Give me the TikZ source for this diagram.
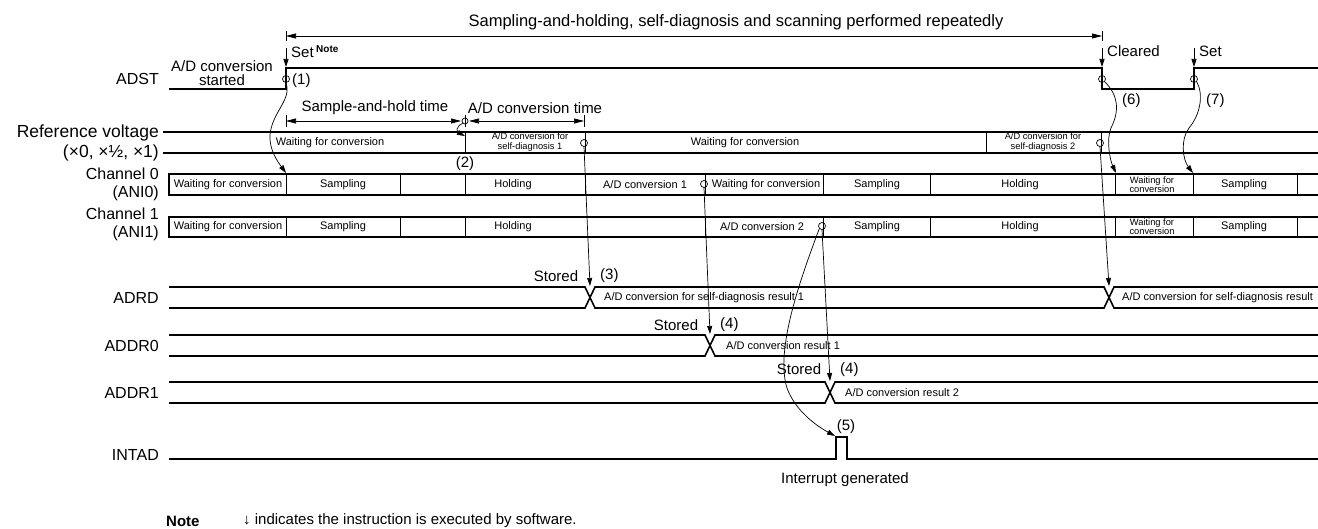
\documentclass[tikz,border=0pt]{standalone}
\usepackage{fontspec}
\setmainfont{Liberation Sans}
\usetikzlibrary{arrows.meta, positioning}

\tikzset{
  sig/.style={line width=1.6pt},
  sepline/.style={line width=0.7pt},
  ring/.style={circle, draw, line width=0.7pt, inner sep=0pt, minimum size=7pt},
  lab/.style={font=\fontsize{16}{18}\selectfont, anchor=east, inner sep=0pt},
  ann/.style={font=\fontsize{15}{14}\selectfont, inner sep=0pt},
  boxtxt/.style={font=\fontsize{11}{12}\selectfont, inner sep=0pt},
  tinytxt/.style={font=\fontsize{9.3}{9.3}\selectfont, align=center, inner sep=0pt},
  cue/.style={-{Triangle[length=8pt,width=5pt]}, line width=0.7pt},
  dimarr/.style={{Triangle[length=10pt,width=5pt]}-{Triangle[length=10pt,width=5pt]}, line width=0.7pt},
}

\begin{document}
\begin{tikzpicture}[x=1pt, y=-1pt]
\useasboundingbox (0,0) rectangle (1318,529);

% signal names
\node[lab] (nADST) at (159,79) {ADST};
\node[lab, font=\fontsize{17.5}{18}\selectfont] (nRefA) at (159,133) {Reference voltage};
\node[lab, font=\fontsize{17.5}{18}\selectfont] (nRefB) at (159,153) {(×0, ×½, ×1)};
\node[lab, align=right] (nCh0) at (159,184) {Channel 0\\(ANI0)};
\node[lab, align=right] (nCh1) at (159,224) {Channel 1\\(ANI1)};
\node[lab] (nADRD) at (159,298) {ADRD};
\node[lab] (nADDR0) at (159,346) {ADDR0};
\node[lab] (nADDR1) at (159,393) {ADDR1};
\node[lab] (nINTAD) at (159,455) {INTAD};

% repeat span
\node[ann, font=\fontsize{16.5}{18}\selectfont] (nRepeat) at (736,22)
  {Sampling-and-holding, self-diagnosis and scanning performed repeatedly};
\coordinate (dL) at (286,36);
\coordinate (dR) at (1102,36);
\draw[dimarr] (dL) -- (dR);
\draw[sepline] (286,31) -- (286,41) (1102,31) -- (1102,41);

% ADST
\draw[sig] (169,89) -- (286,89) -- (286,68) -- (1102,68) -- (1102,89)
  -- (1194,89) -- (1194,68) -- (1318,68);
\node[ann, align=center] (nStart) at (222,73) {A/D conversion\\started};
\foreach \x/\n in {286/s1, 1102/s6, 1194/s7} {
  \coordinate (\n) at (\x,48);
  \coordinate (\n t) at (\x,67);
  \draw[cue] (\n) -- (\n t);
}
\node[ann, anchor=west] (nSet) at (291,52)
  {Set\,\raisebox{5pt}{\fontsize{10}{10}\selectfont\bfseries Note}};
\node[ann, anchor=west] (nCleared) at (1107,51) {Cleared};
\node[ann, anchor=west] (nSet2) at (1199,51) {Set};
\node[ring] (c1) at (286,79) {};
\node[ring] (c6) at (1102,79) {};
\node[ring] (c7) at (1194,79) {};
\node[ann, anchor=west] (n1) at (292,81) {(1)};
\node[ann, anchor=west] (n6) at (1122,101) {(6)};
\node[ann, anchor=west] (n7) at (1206,101) {(7)};

% sample-and-hold / conversion time
\draw[sepline] (286,115) -- (286,127) (465,115) -- (465,127) (584,115) -- (584,127);
\draw[dimarr] (286,121) -- (461,121);
\draw[dimarr] (469,121) -- (584,121);
\node[ring, minimum size=6pt] (cS) at (465,121) {};
\node[ann] (nSH) at (375,108) {Sample-and-hold time};
\node[ann] (nCT) at (535,108) {A/D conversion time};

% reference voltage
\draw[sig] (163,132) -- (1318,132) (163,153) -- (1318,153);
\foreach \x in {465,585,986,1101}
  \draw[sepline] (\x,132) -- (\x,153);
\node[boxtxt] (rW1) at (330,143) {Waiting for conversion};
\node[tinytxt] (rD1) at (530,142) {A/D conversion for\\self-diagnosis 1};
\node[boxtxt] (rW2) at (745,143) {Waiting for conversion};
\node[tinytxt] (rD2) at (1043,142) {A/D conversion for\\self-diagnosis 2};
\node[ring] (cR1) at (584,143) {};
\node[ring] (cR2) at (1100,143) {};
\node[ann] (n2) at (465,164) {(2)};

% channel 0
\draw[sig] (1318,174) -- (169,174) -- (169,195) -- (1318,195);
\foreach \x in {286,400,465,585,705,823,930,1115,1193,1297}
  \draw[sepline] (\x,174) -- (\x,195);
\foreach \x/\t [count=\i] in {228/{Waiting for conversion}, 343/Sampling,
    513/Holding, 645/{A/D conversion 1}, 766/{Waiting for conversion},
    877/Sampling, 1020/Holding, 1244/Sampling}
  \node[boxtxt] (a\i) at (\x,185) {\t};
\node[tinytxt] (aW) at (1152,185) {Waiting for\\conversion};
\node[ring] (cC0) at (704,184) {};

% channel 1
\draw[sig] (1318,217) -- (169,217) -- (169,237) -- (1318,237);
\foreach \x in {286,400,465,705,823,930,1115,1193,1297}
  \draw[sepline] (\x,217) -- (\x,237);
\foreach \x/\t [count=\i] in {228/{Waiting for conversion}, 343/Sampling,
    513/Holding, 762/{A/D conversion 2}, 877/Sampling, 1020/Holding,
    1244/Sampling}
  \node[boxtxt] (b\i) at (\x,227) {\t};
\node[tinytxt] (bW) at (1152,227) {Waiting for\\conversion};
\node[ring] (cC1) at (822,226) {};

% result registers
\draw[sig] (169,287) -- (585,287) -- (595,308) -- (1104,308) -- (1114,287) -- (1318,287);
\draw[sig] (169,308) -- (585,308) -- (595,287) -- (1104,287) -- (1114,308) -- (1318,308);
\draw[sig] (169,335) -- (705,335) -- (715,356) -- (1318,356);
\draw[sig] (169,356) -- (705,356) -- (715,335) -- (1318,335);
\draw[sig] (169,382) -- (825,382) -- (835,403) -- (1318,403);
\draw[sig] (169,403) -- (825,403) -- (835,382) -- (1318,382);
\node[boxtxt, anchor=west] (rr1) at (604,298) {A/D conversion for self-diagnosis result 1};
\node[boxtxt, anchor=west] (rr2) at (1122,298) {A/D conversion for self-diagnosis result};
\node[boxtxt, anchor=west] (rr3) at (726,346) {A/D conversion result 1};
\node[boxtxt, anchor=west] (rr4) at (845,393) {A/D conversion result 2};
\node[ann] (st1) at (556,276) {Stored};
\node[ann] (st2) at (676,325) {Stored};
\node[ann] (st3) at (799,369) {Stored};
\node[ann, anchor=west] (n3) at (600,276) {(3)};
\node[ann, anchor=west] (n4a) at (720,325) {(4)};
\node[ann, anchor=west] (n4b) at (840,370) {(4)};

% INTAD
\draw[sig] (169,459) -- (836,459) -- (836,437) -- (847,437) -- (847,459) -- (1318,459);
\node[ann] (n5) at (846,427) {(5)};
\node[ann] (nInt) at (845,480) {Interrupt generated};

% cause/effect arrows
\coordinate (t1) at (286,173);
\coordinate (t2) at (465,136);
\coordinate (t3) at (590,286);
\coordinate (t4a) at (710,334);
\coordinate (t4b) at (830,381);
\coordinate (t5) at (835,436);
\coordinate (t6) at (1116,173);
\coordinate (t7) at (1193,173);
\coordinate (t8) at (1109,286);
\draw[cue] (c1.south) .. controls (292,100) and (272,112) .. (270,135)
  .. controls (269,150) and (278,162) .. (t1);
\draw[cue] (cS.south west) .. controls (455,127) and (457,132) .. (t2);
\draw[cue] (cR1.south) -- (t3);
\draw[cue] (cC0.south) -- (t4a);
\draw[cue] (cC1.south) -- (t4b);
\draw[cue] (cC1.south west) .. controls (800,280) and (775,350) .. (787,388)
  .. controls (795,410) and (815,425) .. (t5);
\draw[cue] (c6.south east) .. controls (1118,95) and (1120,110) .. (1111,128)
  .. controls (1106,140) and (1110,160) .. (t6);
\draw[cue] (c7.south east) .. controls (1204,95) and (1200,115) .. (1189,128)
  .. controls (1180,140) and (1183,160) .. (t7);
\draw[cue] (cR2.south) -- (t8);

% note
\node[ann, anchor=west, font=\fontsize{15}{14}\selectfont\bfseries] (nNote) at (166,521) {Note};
\node[ann, anchor=west] (nNoteTxt) at (243,521) {↓ indicates the instruction is executed by software.};
\end{tikzpicture}
\end{document}
